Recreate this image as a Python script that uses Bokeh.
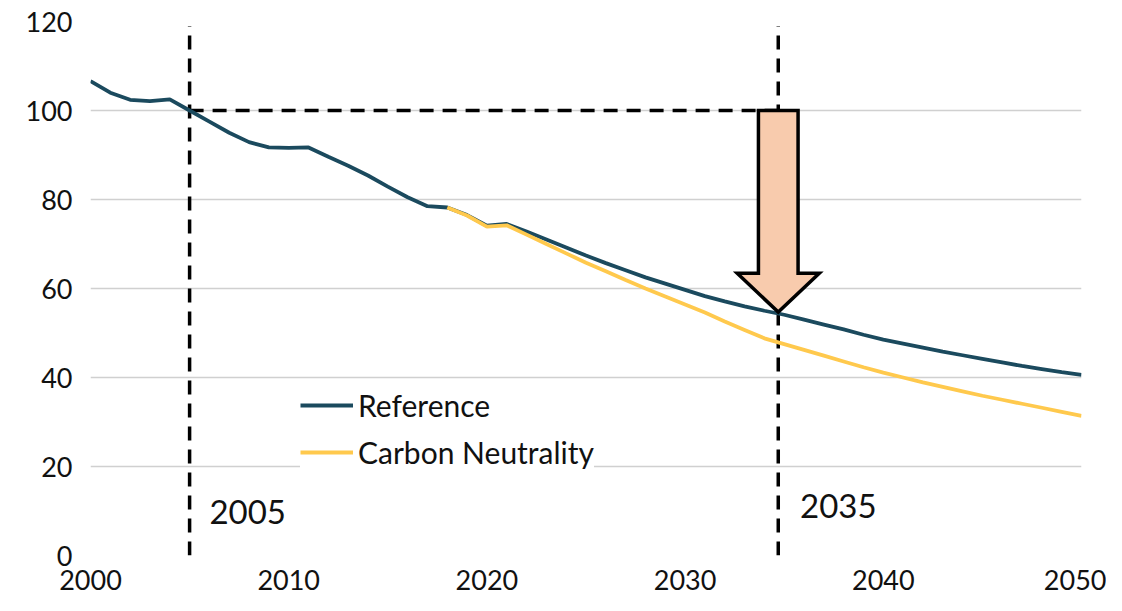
from bokeh.plotting import figure
from bokeh.models import Range1d, Legend, LegendItem, Label, FixedTicker
from bokeh.embed import file_html
from bokeh.resources import INLINE

# ---- data ----
ref_years = list(range(2000, 2051))
reference = [106.6, 104.0, 102.4, 102.1, 102.5, 100.0, 97.5, 95.0, 92.9, 91.7,
             91.6, 91.7, 89.6, 87.6, 85.4, 82.9, 80.5, 78.5, 78.2, 76.5,
             74.1, 74.5, 72.8, 71.0, 69.2, 67.4, 65.7, 64.1, 62.5, 61.1,
             59.7, 58.3, 57.1, 56.0, 55.0, 54.1, 53.0, 51.9, 50.8, 49.6,
             48.5, 47.6, 46.7, 45.8, 45.0, 44.2, 43.4, 42.6, 41.9, 41.2, 40.6]
cn_years = list(range(2018, 2051))
carbon_neutrality = [78.2, 76.4, 73.9, 74.2, 72.1, 70.0, 67.9, 65.8, 63.9, 61.9,
                     60.0, 58.2, 56.4, 54.6, 52.6, 50.7, 48.8, 47.5, 46.2, 44.9,
                     43.6, 42.3, 41.1, 40.0, 38.9, 37.9, 36.9, 35.9, 35.0, 34.1,
                     33.2, 32.3, 31.4]
x_ticks = [2000, 2010, 2020, 2030, 2040, 2050]
y_ticks = [0, 20, 40, 60, 80, 100, 120]
series_names = ["Reference", "Carbon Neutrality"]
marker_labels = ["2005", "2035"]

# annotation positions (data units)
base_year = 2005
target_year = 2034.7
base_level = 100
target_level = 54.7
vline_top = 119
shaft_half = 1.0
head_half = 2.07
head_len = 8.7

FONT = "Lato"
REF_COLOR = "#1b4a5e"
CN_COLOR = "#ffc94d"
TXT = "#111111"

p = figure(width=1106, height=595, output_backend="svg", toolbar_location=None,
           x_range=Range1d(2000, 2050), y_range=Range1d(0, 120),
           min_border_left=90, min_border_right=25, min_border_top=21,
           min_border_bottom=40)
p.outline_line_color = None
p.background_fill_color = "white"
p.border_fill_color = "white"

p.xgrid.grid_line_color = None
p.ygrid.grid_line_color = "#d0d0d0"
p.ygrid.grid_line_width = 1.3

p.xaxis.ticker = FixedTicker(ticks=x_ticks)
p.yaxis.ticker = FixedTicker(ticks=y_ticks)
for ax in (p.xaxis[0], p.yaxis[0]):
    ax.axis_line_color = None
    ax.major_tick_line_color = None
    ax.minor_tick_line_color = None
    ax.major_label_text_font = FONT
    ax.major_label_text_font_size = "27px"
    ax.major_label_text_color = TXT
p.xaxis.major_label_standoff = 8
p.yaxis.major_label_standoff = 12

# dashed guide lines
p.segment(x0=[base_year, target_year], y0=[0, 0], x1=[base_year, target_year],
          y1=[vline_top, vline_top], line_color="black", line_width=3.5,
          line_dash="14 9")
p.line([base_year, target_year], [base_level, base_level], line_color="black",
       line_width=3.5, line_dash="14 9")

# series
r_ref = p.line(ref_years, reference, line_color=REF_COLOR, line_width=3.8)
r_cn = p.line(cn_years, carbon_neutrality, line_color=CN_COLOR, line_width=3.8)

# arrow
head_top = target_level + head_len
ax_pts = [target_year - shaft_half, target_year + shaft_half, target_year + shaft_half,
          target_year + head_half, target_year, target_year - head_half,
          target_year - shaft_half]
ay_pts = [base_level, base_level, head_top, head_top, target_level, head_top, head_top]
p.patch(ax_pts, ay_pts, fill_color="#f8cbad", line_color="black", line_width=3.5,
        line_join="miter")

# year labels
p.add_layout(Label(x=base_year + 1.0, y=9.7, text=marker_labels[0], text_font=FONT,
                   text_font_size="33px", text_baseline="middle", text_color=TXT))
p.add_layout(Label(x=target_year + 1.1, y=11.2, text=marker_labels[1], text_font=FONT,
                   text_font_size="33px", text_baseline="middle", text_color=TXT))

legend = Legend(items=[LegendItem(label=series_names[0], renderers=[r_ref]),
                       LegendItem(label=series_names[1], renderers=[r_cn])],
                location=(210, 83))
legend.label_text_font = FONT
legend.label_text_font_size = "30px"
legend.label_text_color = TXT
legend.glyph_width = 53
legend.glyph_height = 40
legend.label_height = 40
legend.label_standoff = 5
legend.spacing = 7
legend.padding = 8
legend.border_line_color = None
legend.background_fill_color = "white"
legend.background_fill_alpha = 1.0
p.add_layout(legend)

open("out.html", "w").write(file_html(p, INLINE))
